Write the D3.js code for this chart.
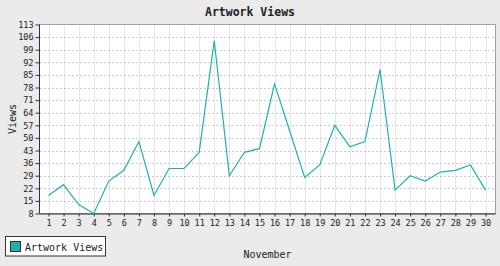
<!DOCTYPE html>
<html>
<head>
<meta charset="utf-8">
<script src="https://cdn.jsdelivr.net/npm/d3@7"></script>
<style>
  body { margin: 0; background: #ebebeb; }
  svg { display: block; }
  text { font-family: "DejaVu Sans Mono", "Liberation Mono", monospace; fill: #222; }
</style>
</head>
<body>
<svg id="chart" width="500" height="266"></svg>
<script>
// day of month
var days = d3.range(1, 31);
// views per day
var views = [18, 24, 13, 8, 26, 32, 48, 18, 33, 33, 42, 104, 29, 42, 44,
             80, 54, 28, 35, 57, 45, 48, 88, 21, 29, 26, 31, 32, 35, 21];
var yTicks = d3.range(8, 114, 7);
var seriesName = "Artwork Views";

var svg = d3.select("#chart");
var plotL = 39.5, plotR = 495.5, plotT = 24.5, plotB = 213.5;

var x = d3.scaleLinear().domain([1, 30]).range([48.5, 485.5]);
var y = d3.scaleLinear().domain([8, 113]).range([plotB, plotT]);

svg.append("rect").attr("width", 500).attr("height", 266).attr("fill", "#ebebeb");
svg.append("rect")
  .attr("x", plotL).attr("y", plotT)
  .attr("width", plotR - plotL).attr("height", plotB - plotT)
  .attr("fill", "#fff").attr("stroke", "#a0a0a0");

// vertical grid
svg.append("g").selectAll("line").data(days).join("line")
  .attr("x1", function(d) { return Math.round(x(d)) + 0.5; })
  .attr("x2", function(d) { return Math.round(x(d)) + 0.5; })
  .attr("y1", plotT + 1).attr("y2", plotB)
  .attr("stroke", "#e6e6e6");

// horizontal dotted grid
svg.append("g").selectAll("line").data(yTicks.slice(1, -1)).join("line")
  .attr("x1", plotL + 1).attr("x2", plotR - 1)
  .attr("y1", function(d) { return Math.round(y(d)) + 0.5; })
  .attr("y2", function(d) { return Math.round(y(d)) + 0.5; })
  .attr("stroke", "#999")
  .attr("stroke-dasharray", "1,3");

// axes
var xAxis = d3.axisBottom(x).tickValues(days).tickSize(3).tickPadding(3);
var yAxis = d3.axisLeft(y).tickValues(yTicks).tickSize(4).tickPadding(2);

var gx = svg.append("g").attr("transform", "translate(0," + plotB + ")").call(xAxis);
var gy = svg.append("g").attr("transform", "translate(" + plotL + ",0)").call(yAxis);
[gx, gy].forEach(function(g) {
  g.select(".domain").attr("stroke", "#333");
  g.selectAll(".tick line").attr("stroke", "#333");
  g.selectAll(".tick text").attr("font-size", "8.5px")
    .attr("font-family", "DejaVu Sans Mono, monospace").attr("fill", "#222");
});
gx.select(".domain").attr("d", "M" + plotL + ",0.5H" + plotR);
gy.select(".domain").attr("d", "M0," + plotT + "V" + plotB);

// line
var line = d3.line()
  .x(function(d, i) { return x(days[i]); })
  .y(function(d) { return y(d); });

svg.append("path")
  .datum(views)
  .attr("d", line)
  .attr("fill", "none")
  .attr("stroke", "#20b2aa")
  .attr("stroke-width", 1.2);

// title
svg.append("text")
  .attr("x", 250).attr("y", 16)
  .attr("text-anchor", "middle")
  .attr("font-size", "11.5px").attr("font-weight", "bold")
  .text("Artwork Views");

// axis titles
svg.append("text")
  .attr("x", (plotL + plotR) / 2).attr("y", 258)
  .attr("text-anchor", "middle")
  .attr("font-size", "10px")
  .text("November");

svg.append("text")
  .attr("transform", "translate(16," + (plotT + plotB) / 2 + ") rotate(-90)")
  .attr("text-anchor", "middle")
  .attr("font-size", "10px")
  .text("Views");

// legend
var lg = svg.append("g");
lg.append("rect").attr("x", 5.5).attr("y", 236.5).attr("width", 100).attr("height", 19.5)
  .attr("fill", "#fff").attr("stroke", "#333");
lg.append("rect").attr("x", 10.5).attr("y", 241.5).attr("width", 10).attr("height", 10)
  .attr("fill", "#20b2aa").attr("stroke", "#333");
lg.append("text").attr("x", 25).attr("y", 250.5)
  .attr("font-size", "10px")
  .text(seriesName);
</script>
</body>
</html>
